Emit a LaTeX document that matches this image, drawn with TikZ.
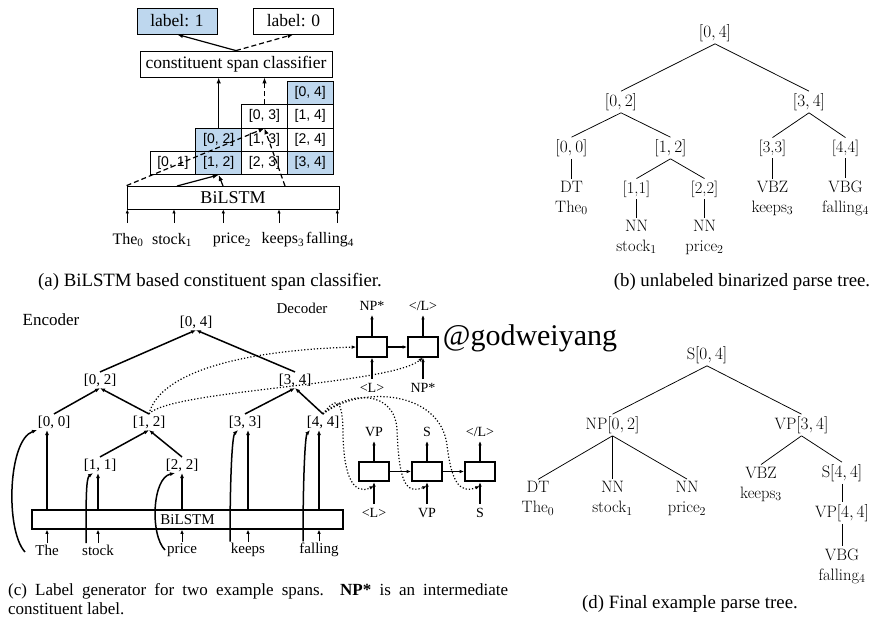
\documentclass[tikz,border=0pt]{standalone}
\usepackage{fontspec}
\usepackage{tikz}
\usetikzlibrary{arrows.meta,calc}
\newfontfamily\tnr{Liberation Serif}
\newfontfamily\ars{Liberation Sans}
\definecolor{cellblue}{RGB}{190,215,238}
\tikzset{%
  spanbox/.style   = {draw, line width=0.8pt, inner sep=0pt,%
                      font=\tnr\fontsize{17.5}{20}\selectfont},%
  labelbox/.style  = {spanbox, minimum width=80pt, minimum height=26pt},%
  chartcell/.style = {draw, line width=0.8pt, inner sep=0pt,%
                      minimum width=45.8pt, minimum height=23.3pt,%
                      font=\ars\fontsize{14}{16}\selectfont},%
  goldcell/.style  = {chartcell, fill=cellblue},%
  wordtok/.style   = {inner sep=1pt, font=\tnr\fontsize{16}{19}\selectfont},%
  feed/.style      = {line width=1.2pt, -{Latex[length=6pt,width=4.5pt]}},%
  feeddash/.style  = {feed, dash pattern=on 5pt off 3pt},%
  thinfeed/.style  = {line width=0.9pt, -{Latex[length=4pt,width=3.5pt]}},%
  enclabel/.style  = {inner sep=1.5pt, font=\tnr\fontsize{15}{17}\selectfont},%
  declabel/.style  = {inner sep=4pt, font=\tnr\fontsize{14}{16}\selectfont},%
  lstmcell/.style  = {draw, line width=1.6pt, inner sep=0pt,%
                      minimum width=30pt, minimum height=19.5pt},%
  treearr/.style   = {line width=1.5pt, -{Latex[length=5pt,width=4pt]}},%
  decarr/.style    = {line width=1.2pt, -{Latex[length=4.5pt,width=3.5pt]}},%
  attn/.style      = {line width=1.2pt, dotted, -{Latex[length=4.5pt,width=3.5pt]}},%
  treelabel/.style = {inner sep=2pt, align=center, font=\fontsize{16.5}{20}\selectfont},%
  parsetree/.style = {every node/.style={treelabel},%
                      edge from parent/.style={draw, line width=0.75pt},%
                      edge from parent path={(\tikzparentnode.south) -- (\tikzchildnode.north)}},%
  capt/.style      = {inner sep=0pt, font=\tnr\fontsize{18.8}{22}\selectfont}%
}
\begin{document}
\begin{tikzpicture}[x=1pt,y=-1pt]
\useasboundingbox (0,0) rectangle (883,624);

\node[labelbox, fill=cellblue] (lab1) at (177,21) {label: 1};
\node[labelbox] (lab0) at (293.5,21) {label: 0};
\node[spanbox, minimum width=192pt, minimum height=26pt] (clf) at (236,64) {constituent span classifier};
\node[chartcell] (s01) at (172.9,162.85) {[0, 1]};
\node[goldcell]  (s12) at (218.7,162.85) {[1, 2]};
\node[chartcell] (s23) at (264.5,162.85) {[2, 3]};
\node[goldcell]  (s34) at (310.3,162.85) {[3, 4]};
\node[goldcell]  (s02) at (218.7,139.55) {[0, 2]};
\node[chartcell] (s13) at (264.5,139.55) {[1, 3]};
\node[chartcell] (s24) at (310.3,139.55) {[2, 4]};
\node[chartcell] (s03) at (264.5,116.25) {[0, 3]};
\node[chartcell] (s14) at (310.3,116.25) {[1, 4]};
\node[goldcell]  (s04) at (310.3,92.95) {[0, 4]};
\node[spanbox, minimum width=212pt, minimum height=23pt, font=\tnr\fontsize{18}{20}\selectfont] (lstmA) at (233,197.5) {BiLSTM};
\node[wordtok] (wA0) at (128,240) {The\textsubscript{0}};
\node[wordtok] (wA1) at (172,240) {stock\textsubscript{1}};
\node[wordtok] (wA2) at (232,240) {price\textsubscript{2}};
\node[wordtok] (wA3) at (283,240) {keeps\textsubscript{3}};
\node[wordtok] (wA4) at (330,240) {falling\textsubscript{4}};
\coordinate (iA0) at (127.3,223);
\coordinate (iA1) at (174,223);
\coordinate (iA2) at (223.3,223);
\coordinate (iA3) at (279,223);
\coordinate (iA4) at (337.3,223);
\coordinate (hA1) at (177,186);
\coordinate (hA2) at (223,186);
\coordinate (hA3) at (285,186);
\foreach \i in {0,...,4}
  \draw[thinfeed] (iA\i) -- (iA\i |- lstmA.south);
\draw[feeddash] (lstmA.north west) -- (s03.south);
\draw[feeddash] (hA3) -- (s03.south);
\draw[feed] (hA1) -- (s12.south);
\draw[feed] (hA2) -- (s12.south);
\draw[feed] (s02.north) -- (s02.north |- clf.south);
\draw[feeddash] (s03.north) -- (s03.north |- clf.south);
\draw[feed] (clf.north) -- (lab1.south);
\draw[feeddash] (clf.north) -- (lab0.south);
\node[capt] (capa) at (210,282) {(a) BiLSTM based constituent span classifier.};

\begin{scope}[parsetree]
\node (b04) at (715,33) {$[0,4]$}
  child[sibling distance=188pt, level distance=69pt] {node (b02) {$[0,2]$}
    child[sibling distance=99pt, level distance=46pt] {node (b00) {$[0,0]$}
      child[level distance=50pt] {node (b00w) {DT\\The$_0$}}}
    child[sibling distance=99pt, level distance=46pt] {node (b12) {$[1,2]$}
      child[sibling distance=68pt, level distance=41pt] {node (b11) {[1,1]}
        child[level distance=48pt] {node (b11w) {NN\\stock$_1$}}}
      child[sibling distance=68pt, level distance=41pt] {node (b22) {[2,2]}
        child[level distance=48pt] {node (b22w) {NN\\price$_2$}}}}}
  child[sibling distance=188pt, level distance=69pt] {node (b34) {$[3,4]$}
    child[sibling distance=73pt, level distance=46pt] {node (b33) {[3,3]}
      child[level distance=50pt] {node (b33w) {VBZ\\keeps$_3$}}}
    child[sibling distance=73pt, level distance=46pt] {node (b44) {[4,4]}
      child[level distance=50pt] {node (b44w) {VBG\\falling$_4$}}}};
\end{scope}
\node[capt] (capb) at (742,282) {(b) unlabeled binarized parse tree.};

\node[enclabel, font=\tnr\fontsize{17}{19}\selectfont] (enc) at (51,320) {Encoder};
\node[enclabel] (dec) at (302,308) {Decoder};
\node[enclabel] (c04) at (196,322) {[0, 4]};
\node[enclabel] (c02) at (100,380) {[0, 2]};
\node[enclabel] (c34) at (295,380) {[3, 4]};
\node[enclabel] (c00) at (54,422) {[0, 0]};
\node[enclabel] (c12) at (149,422) {[1, 2]};
\node[enclabel] (c33) at (245,422) {[3, 3]};
\node[enclabel] (c44) at (323,422) {[4, 4]};
\node[enclabel] (c11) at (100,465) {[1, 1]};
\node[enclabel] (c22) at (182,465) {[2, 2]};
\node[enclabel, draw, line width=1.5pt, minimum width=311pt, minimum height=19pt, inner sep=0pt] (lstmC) at (187.5,519.5) {BiLSTM};
\node[enclabel] (wThe) at (47,550) {The};
\node[enclabel] (wstock) at (98,550) {stock};
\node[enclabel] (wprice) at (182,550) {price};
\node[enclabel] (wkeeps) at (248,550) {keeps};
\node[enclabel] (wfalling) at (319,550) {falling};
\foreach \w in {wThe,wstock,wprice,wkeeps,wfalling}
  \draw[thinfeed] (\w.north) -- (\w |- lstmC.south);
\draw[treearr] (wThe |- lstmC.north) -- (wThe |- c00.south);
\draw[treearr] (wstock |- lstmC.north) -- (wstock |- c11.south);
\draw[treearr] (wprice |- lstmC.north) -- (wprice |- c22.south);
\draw[treearr] (wkeeps |- lstmC.north) -- (wkeeps |- c33.south);
\draw[treearr] (wfalling |- lstmC.north) -- (wfalling |- c44.south);
\draw[treearr] ($(wThe.center)+(-22,2)$) .. controls (5,530) and (8,440) .. ($(wThe |- c00.south)+(-10,0)$);
\draw[treearr] ($(wstock.north)+(-12,0)$) .. controls (86,500) and (86,478) .. ($(wstock |- c11.south)+(-5,0)$);
\draw[treearr] ($(wprice.center)+(-17,0)$) .. controls (150,535) and (152,478) .. ($(wprice |- c22.south)+(-7,0)$);
\draw[treearr] ($(wkeeps.north)+(-18,0)$) .. controls (230,480) and (232,436) .. ($(wkeeps |- c33.south)+(-10,0)$);
\draw[treearr] ($(wfalling.north)+(-16,0)$) .. controls (303,480) and (305,436) .. ($(wfalling |- c44.south)+(-9,0)$);
\draw[treearr] (c00.north) -- (c02.south);
\draw[treearr] (c12.north) -- (c02.south);
\draw[treearr] (c02.north) -- (c04.south);
\draw[treearr] (c34.north) -- (c04.south);
\draw[treearr] (c33.north) -- (c34.south);
\draw[treearr] (c44.north) -- (c34.south);
\draw[treearr] (c11.north) -- (c12.south);
\draw[treearr] (c22.north) -- (c12.south);

\node[lstmcell] (dA1) at (372,347) {};
\node[lstmcell] (dA2) at (423,347) {};
\node[declabel] (oA1) at (372,306) {NP*};
\node[declabel] (oA2) at (423,306) {\textless/L\textgreater};
\node[declabel] (iA1) at (372,388) {\textless L\textgreater};
\node[declabel] (iA2) at (423,388) {NP*};
\draw[decarr] (dA1) -- (dA2);
\draw[decarr] (dA1) -- (oA1);
\draw[decarr] (dA2) -- (oA2);
\draw[decarr] (iA1) -- (dA1);
\draw[decarr] (iA2) -- (dA2);
\node[lstmcell] (dB1) at (374,471.5) {};
\node[lstmcell] (dB2) at (427,471.5) {};
\node[lstmcell] (dB3) at (480,471.5) {};
\node[declabel] (oB1) at (374,432) {VP};
\node[declabel] (oB2) at (427,432) {S};
\node[declabel] (oB3) at (480,432) {\textless/L\textgreater};
\node[declabel] (iB1) at (374,513) {\textless L\textgreater};
\node[declabel] (iB2) at (427,513) {VP};
\node[declabel] (iB3) at (480,513) {S};
\draw[decarr] (dB1) -- (dB2);
\draw[decarr] (dB2) -- (dB3);
\draw[decarr] (dB1) -- (oB1);
\draw[decarr] (dB2) -- (oB2);
\draw[decarr] (dB3) -- (oB3);
\draw[decarr] (iB1) -- (dB1);
\draw[decarr] (iB2) -- (dB2);
\draw[decarr] (iB3) -- (dB3);
\draw[attn] (c12.north) .. controls (160,370) and (250,350) .. (dA1.west);
\draw[attn] (c12.north) .. controls (170,390) and (390,385) .. (dA2.south);
\draw[attn] (c44.north) .. controls (335,398) and (343,395) .. (343,435)
  .. controls (344,480) and (355,495) .. ($(dB1.south)+(0,4)$);
\draw[attn] (c44.north) .. controls (350,390) and (395,390) .. (397,430)
  .. controls (399,480) and (405,495) .. ($(dB2.south)+(0,4)$);
\draw[attn] (c44.north) .. controls (360,385) and (440,390) .. (447,445)
  .. controls (451,478) and (458,495) .. ($(dB3.south)+(0,4)$);
\node[font=\tnr\fontsize{30}{34}\selectfont, inner sep=0pt] (wm) at (530,338) {@godweiyang};
\node[capt, anchor=west, align=left, font=\tnr\fontsize{17}{19}\selectfont] (capc) at (8,599)
  {\makebox[500pt][s]{(c) Label generator for two example spans.\ \ \textbf{NP*} is an intermediate}\\constituent label.};

\begin{scope}[parsetree]
\node (dS) at (707,355) {S$[0,4]$}
  child[sibling distance=189pt, level distance=70pt] {node (dNP) {NP$[0,2]$}
    child[sibling distance=74.5pt, level distance=73.5pt] {node (dDT) {DT\\The$_0$}}
    child[sibling distance=74.5pt, level distance=73.5pt] {node (dNN1) {NN\\stock$_1$}}
    child[sibling distance=74.5pt, level distance=73.5pt] {node (dNN2) {NN\\price$_2$}}}
  child[sibling distance=189pt, level distance=70pt] {node (dVP) {VP$[3,4]$}
    child[sibling distance=81pt, level distance=59pt] {node (dVBZ) {VBZ\\keeps$_3$}}
    child[sibling distance=81pt, level distance=48pt] {node (dS44) {S$[4,4]$}
      child[level distance=40pt] {node (dVP44) {VP$[4,4]$}
        child[level distance=53pt] {node (dVBG) {VBG\\falling$_4$}}}}};
\end{scope}
\node[capt] (capd) at (690,604) {(d) Final example parse tree.};
\end{tikzpicture}
\end{document}
